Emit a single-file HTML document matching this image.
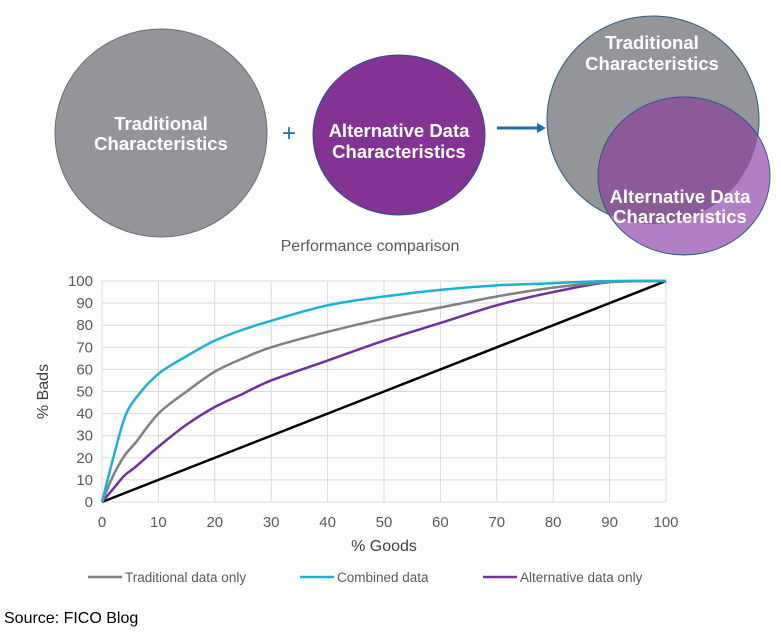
<!DOCTYPE html>
<html><head><meta charset="utf-8"><style>
body{margin:0;background:#fff;width:781px;height:630px;overflow:hidden;font-family:"Liberation Sans",Arial,sans-serif}
</style></head><body>
<svg width="781" height="630" xmlns="http://www.w3.org/2000/svg">
<defs><clipPath id="gc"><ellipse cx="653" cy="120" rx="106" ry="104"/></clipPath></defs>
<g font-family="Liberation Sans, Arial, sans-serif" font-weight="bold" font-size="18.5" fill="#fff" text-anchor="middle">
<ellipse cx="161" cy="133" rx="106" ry="104" fill="#939598" stroke="#6d6e71" stroke-width="1"/>
<text x="161" y="130">Traditional</text>
<text x="161" y="150">Characteristics</text>
<text x="289" y="141" fill="#1f6fa8" font-weight="normal" font-size="24">+</text>
<ellipse cx="399" cy="135" rx="86" ry="80" fill="#833393" stroke="#2a4f8a" stroke-width="1"/>
<text x="399" y="137">Alternative Data</text>
<text x="399" y="158">Characteristics</text>
<g><line x1="497" y1="128" x2="538" y2="128" stroke="#1f6fa8" stroke-width="3"/><polygon points="537,123 546,128 537,133" fill="#1f6fa8"/></g>
<ellipse cx="653" cy="120" rx="106" ry="104" fill="#939598" stroke="#2a5d8a" stroke-width="1"/>
<ellipse cx="684" cy="176" rx="86" ry="79" fill="#b27fc4" stroke="#2a5d8a" stroke-width="1"/>
<ellipse cx="684" cy="176" rx="86" ry="79" fill="#8c5a98" stroke="#2a5d8a" stroke-width="1" clip-path="url(#gc)"/>
<text x="652" y="49">Traditional</text>
<text x="652" y="70">Characteristics</text>
<text x="680" y="203">Alternative Data</text>
<text x="680" y="223">Characteristics</text>
</g>
<text x="370" y="251" text-anchor="middle" font-size="16" fill="#595959">Performance comparison</text>
<g id="chart"></g>
<text x="4" y="623" font-size="16" fill="#000">Source: FICO Blog</text>
</svg>
<script>
const xs=[0,2,4,6,10,15,20,25,30,40,50,60,70,80,90,100];
const traditional=[0,12,21,27,40,50,59,65,70,77,83,88,93,97,99.5,100];
const combined=[0,20,38,47,58,66,73,78,82,89,93,96,98,99,100,100];
const alternative=[0,6,12,16,25,35,43,49,55,64,73,81,89,95,99.5,100];
const baseline=[0,100];
const ticks=[0,10,20,30,40,50,60,70,80,90,100];
const X=v=>102+v*5.64, Y=v=>502-v*2.21;
const NS='http://www.w3.org/2000/svg', g=document.getElementById('chart');
function mk(t,a,p){const e=document.createElementNS(NS,t);for(const k in a)e.setAttribute(k,a[k]);(p||g).appendChild(e);return e;}
ticks.forEach(t=>{
 const l1=mk('line',{x1:X(0),x2:X(100),y1:Y(t),y2:Y(t),stroke:'#d9d9d9','stroke-width':1});
 
 
 const l2=mk('line',{x1:X(t),x2:X(t),y1:Y(0),y2:Y(100),stroke:'#d9d9d9','stroke-width':1});
 
 
 const ty=mk('text',{x:X(0)-9,y:Y(t)+5,'text-anchor':'end','font-size':15,fill:'#595959'});ty.textContent=t;
 
 
 const tx=mk('text',{x:X(t),y:Y(0)+25,'text-anchor':'middle','font-size':15,fill:'#595959'});tx.textContent=t;
 
 
});
function smooth(ys,xv){const p=xv.map((x,i)=>[X(x),Y(ys[i])]);let d='M'+p[0];for(let i=0;i<p.length-1;i++){const p0=p[i-1]||p[i],p1=p[i],p2=p[i+1],p3=p[i+2]||p2;d+=` C${p1[0]+(p2[0]-p0[0])/6},${p1[1]+(p2[1]-p0[1])/6} ${p2[0]-(p3[0]-p1[0])/6},${p2[1]-(p3[1]-p1[1])/6} ${p2[0]},${p2[1]}`;}return d;}
const b=mk('line',{x1:X(baseline[0]),y1:Y(baseline[0]),x2:X(baseline[1]),y2:Y(baseline[1]),stroke:'#000','stroke-width':2.5});


[[alternative,'#7030a0','alternative-line'],[traditional,'#808080','traditional-line'],[combined,'#1ab0d8','combined-line']].forEach(s=>{
 const p=mk('path',{d:smooth(s[0],xs),fill:'none',stroke:s[1],'stroke-width':2.5});
 
 
});
const yt=mk('text',{x:0,y:0,transform:`translate(48,${Y(50)}) rotate(-90)`,'text-anchor':'middle','font-size':16,fill:'#404040'});yt.textContent='% Bads';


const xt=mk('text',{x:X(50),y:551,'text-anchor':'middle','font-size':16,fill:'#404040'});xt.textContent='% Goods';


[[88,'#808080','Traditional data only'],[300,'#1ab0d8','Combined data'],[483,'#7030a0','Alternative data only']].forEach(l=>{
 const ln=mk('line',{x1:l[0],x2:l[0]+34,y1:577,y2:577,stroke:l[1],'stroke-width':2.5});
 
 
 const t=mk('text',{x:l[0]+37,y:582,'font-size':13.5,fill:'#595959'});t.textContent=l[2];
 
 
});
</script>
</body></html>
